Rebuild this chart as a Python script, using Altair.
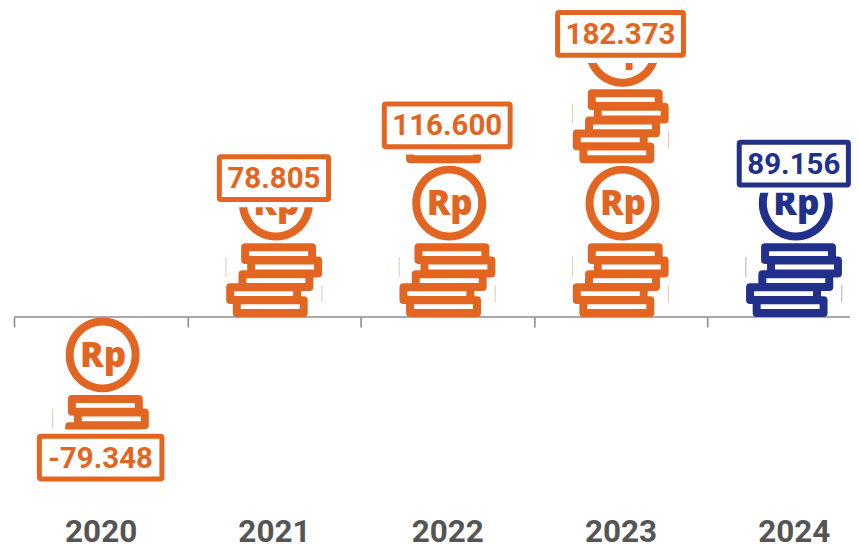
import math
import altair as alt
import pandas as pd

years = ["2020", "2021", "2022", "2023", "2024"]
values = [-79.348, 78.805, 116.600, 182.373, 89.156]
labels = ["-79.348", "78.805", "116.600", "182.373", "89.156"]
tones = ["realisasi", "realisasi", "realisasi", "realisasi", "proyeksi"]

ORANGE = "#E26621"
NAVY = "#21308A"
GREY_TXT = "#555555"
GREY_AXIS = "#8C8C8C"
tone_scale = alt.Scale(domain=["realisasi", "proyeksi"], range=[ORANGE, NAVY])

PX_PER_UNIT = 1.394
PLOT_W, PLOT_H = 843, 480
Y_MAX = 309 / PX_PER_UNIT
Y_MIN = -171 / PX_PER_UNIT
ICON_PX = 154.0
UNIT = ICON_PX / PX_PER_UNIT
COIN_UP = 37 / PX_PER_UNIT
NEG_CENTER = -75 / PX_PER_UNIT
BOX_W = [127.7, 114.3, 131, 131, 114.3]
STEP_PX = 173.5
X_MIN = -6 / STEP_PX
X_MAX = (PLOT_W - 6) / STEP_PX


def n(v):
    return f"{v / 77:.4f}"


def bar_path(cx, cy, w=67, h=12.8):
    return (f"M{n(cx - w / 2)} {n(cy - h / 2)} L{n(cx + w / 2)} {n(cy - h / 2)} "
            f"L{n(cx + w / 2)} {n(cy + h / 2)} L{n(cx - w / 2)} {n(cy + h / 2)} Z")


def circle_path(cx, cy, r):
    return (f"M{n(cx - r)} {n(cy)} A{n(r)} {n(r)} 0 1 0 {n(cx + r)} {n(cy)} "
            f"A{n(r)} {n(r)} 0 1 0 {n(cx - r)} {n(cy)} Z")


ICON = " ".join([
    circle_path(2, -37, 33),
    bar_path(4.7, 13.5), bar_path(10.7, 27), bar_path(2, 40.7),
    bar_path(-10.3, 53.7), bar_path(-3.7, 66.7),
])
EDGES = f"M{n(-48)} {n(17)} L{n(-48)} {n(37)} M{n(48)} {n(45)} L{n(48)} {n(62)}"
ICON_SIZE = ICON_PX ** 2

icon_rows = []
for i, (v, t) in enumerate(zip(values, tones)):
    for k in range(math.ceil(abs(v) / UNIT)):
        c = (k + 0.5) * UNIT if v > 0 else NEG_CENTER - k * UNIT
        icon_rows.append({"slot": i + 0.5, "center": c, "coin": c + COIN_UP, "tone": t, "rp": "Rp"})
icons = pd.DataFrame(icon_rows)
bars = pd.DataFrame({
    "slot": [i + 0.5 for i in range(len(years))],
    "left": list(range(len(years))),
    "right": [min(i + 1, X_MAX) for i in range(len(years))],
    "value": values, "label": labels, "tone": tones,
    "limit": [Y_MAX if v > 0 else Y_MIN for v in values],
})

xscale = alt.Scale(domain=[X_MIN, X_MAX], nice=False, zero=False)
yscale = alt.Scale(domain=[Y_MIN, Y_MAX], nice=False, zero=False)
AXIS_UP = -(PLOT_H + 8 - 317)
tick_axis = alt.Axis(title=None, orient="bottom", domain=False, ticks=True, tickColor=GREY_AXIS, tickWidth=1.6,
                     tickSize=10, labels=False, values=list(range(len(years))), offset=AXIS_UP, grid=False)
label_axis = alt.Axis(title=None, orient="bottom", domain=False, ticks=False,
                      values=[i + 0.5 for i in range(len(years))],
                      labelExpr="['2020','2021','2022','2023','2024'][floor(datum.value)]",
                      offset=AXIS_UP, labelPadding=224.7, labelFont="Roboto", labelFontWeight="bold",
                      labelFontSize=31.5, labelColor=GREY_TXT, labelBaseline="alphabetic", labelAngle=0,
                      labelOverlap=False, labelFlush=False, grid=False)
x_plain = alt.X("slot:Q", scale=xscale, axis=None)
y_center = alt.Y("center:Q", scale=yscale, axis=None)
y_value = alt.Y("value:Q", scale=yscale, axis=None)
color = alt.Color("tone:N", scale=tone_scale, legend=None)

baseline_row = pd.DataFrame({"a": [0.0], "b": [X_MAX], "zero": [0.0]})
axis_a = alt.Chart(bars).mark_point(opacity=0).encode(x=alt.X("slot:Q", scale=xscale, axis=tick_axis), y=y_value)
axis_b = alt.Chart(bars).mark_point(opacity=0).encode(x=alt.X("slot:Q", scale=xscale, axis=label_axis), y=y_value)
base_rule = alt.Chart(baseline_row).mark_rule(color=GREY_AXIS, strokeWidth=1.6).encode(
    x=alt.X("a:Q", scale=xscale, axis=None), x2="b:Q", y=alt.Y("zero:Q", scale=yscale, axis=None))

icon_layer = alt.Chart(icons).mark_point(
    shape=ICON, size=ICON_SIZE, filled=False, strokeWidth=8, strokeJoin="round", opacity=1
).encode(x=x_plain, y=y_center, color=color)

edge_layer = alt.Chart(icons).mark_point(
    shape=EDGES, size=ICON_SIZE, filled=False, strokeWidth=1, opacity=0.4
).encode(x=x_plain, y=y_center, color=color)

rp_layer = alt.Chart(icons).mark_text(
    font="Open Sans", fontWeight=800, fontSize=35, baseline="alphabetic", dx=2.5, dy=12
).encode(x=x_plain, y=alt.Y("coin:Q", scale=yscale, axis=None), text="rp:N", color=color)

layers = [axis_a, axis_b, base_rule, icon_layer, edge_layer, rp_layer]

for i, (v, c, w) in enumerate(zip(values, tones, BOX_W)):
    row = bars.iloc[[i]]
    hue = ORANGE if c == "realisasi" else NAVY
    off = -29.2 if v > 0 else 30.2
    layers.append(alt.Chart(row).mark_rect(fill="white", yOffset=0 if v > 0 else 2).encode(
        x=alt.X("left:Q", scale=xscale, axis=None), x2="right:Q", y=y_value, y2="limit:Q"))
    layers.append(alt.Chart(row).mark_rect(
        fill="white", stroke=hue, strokeWidth=5, cornerRadius=1.5, width=w - 5, height=42.7, yOffset=off
    ).encode(x=x_plain, y=y_value))
    layers.append(alt.Chart(row).mark_text(
        font="Roboto", fontWeight="bold", fontSize=29.5, color=hue, baseline="middle", dy=off + 1
    ).encode(x=x_plain, y=y_value, text="label:N"))

chart = alt.layer(*layers).resolve_axis(x="independent").properties(
    width=PLOT_W, height=PLOT_H, padding=0, background="white"
).configure_view(stroke=None)

chart.save("out.html", embed_options={"renderer": "svg", "actions": False})
